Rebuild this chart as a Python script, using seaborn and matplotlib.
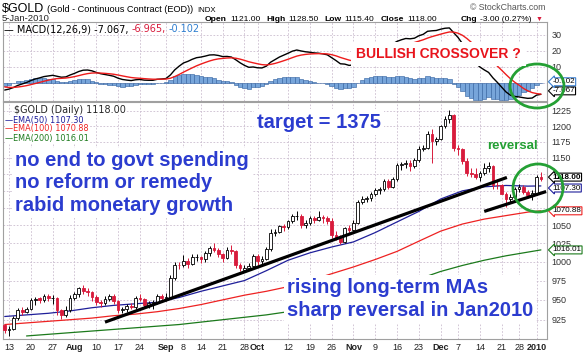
import numpy as np
import pandas as pd
import matplotlib
matplotlib.use("Agg")
import matplotlib.pyplot as plt
from matplotlib.patches import Ellipse
from matplotlib.ticker import FixedLocator, FixedFormatter, NullLocator
import seaborn as sns

# daily gold bars, 10 Jul 2009 .. 5 Jan 2010 (exchange holidays dropped)
HOLIDAYS = ["2009-09-07", "2009-11-26", "2009-12-25", "2010-01-01"]

OPEN = [918, 912, 914, 927, 937, 934, 938, 950, 952, 950,
        955, 952, 953, 937, 931, 937, 953, 958, 965, 961,
        960, 954, 947, 946, 951, 955, 949, 937, 938, 942,
        941, 953, 951, 943, 946, 947, 955, 952, 954, 979,
        996, 995, 1001, 997, 1006, 1007, 1003, 1012, 1019, 1016,
        1010, 1005, 1016, 1014, 995, 989, 991, 994, 1008, 1001,
        1004, 1017, 1040, 1041, 1049, 1048, 1056, 1063, 1064, 1051,
        1053, 1061, 1058, 1062, 1060, 1056, 1037, 1033, 1027, 1046,
        1044, 1054, 1084, 1088, 1090, 1096, 1101, 1103, 1115, 1106,
        1117, 1139, 1140, 1142, 1137, 1146, 1164, 1166, 1188, 1177,
        1180, 1200, 1212, 1218, 1166, 1163, 1145, 1127, 1125, 1120,
        1126, 1134, 1137, 1109, 1108, 1096, 1088, 1091, 1103, 1105,
        1098, 1094, 1097, 1121]
HIGH = [920, 917, 929, 940, 941, 941, 953, 954, 954, 958,
        957, 956, 954, 939, 942, 956, 960, 967, 969, 965,
        962, 956, 950, 955, 958, 957, 950, 941, 945, 946,
        955, 957, 953, 948, 950, 958, 957, 959, 982, 999,
        1000, 1009, 1005, 1010, 1011, 1008, 1015, 1022, 1025, 1018,
        1012, 1020, 1023, 1016, 998, 996, 998, 1010, 1010, 1008,
        1020, 1045, 1045, 1051, 1052, 1058, 1066, 1070, 1066, 1058,
        1063, 1064, 1070, 1065, 1063, 1060, 1042, 1036, 1048, 1051,
        1058, 1087, 1093, 1093, 1099, 1104, 1106, 1118, 1117, 1120,
        1142, 1143, 1147, 1146, 1150, 1168, 1170, 1192, 1195, 1183,
        1202, 1216, 1227, 1220, 1170, 1166, 1149, 1135, 1135, 1130,
        1142, 1143, 1139, 1117, 1110, 1098, 1096, 1105, 1110, 1108,
        1101, 1101, 1124, 1128.5]
LOW = [908, 905, 912, 925, 931, 933, 937, 944, 946, 947,
       948, 945, 931, 926, 928, 934, 950, 954, 958, 955,
       948, 943, 941, 943, 949, 945, 933, 933, 935, 938,
       939, 948, 940, 940, 939, 945, 948, 948, 952, 976,
       990, 993, 992, 995, 1001, 998, 1000, 1008, 1013, 1006,
       1000, 1003, 1010, 992, 988, 986, 989, 991, 996, 997,
       1002, 1015, 1035, 1039, 1042, 1045, 1054, 1058, 1047, 1046,
       1051, 1053, 1056, 1053, 1052, 1033, 1030, 1024, 1025, 1040,
       1042, 1052, 1081, 1083, 1085, 1092, 1095, 1100, 1103, 1104,
       1115, 1132, 1135, 1130, 1135, 1144, 1160, 1164, 1142, 1170,
       1178, 1197, 1205, 1160, 1155, 1140, 1122, 1120, 1117, 1115,
       1123, 1128, 1103, 1102, 1095, 1076, 1083, 1089, 1099, 1095,
       1089, 1086, 1094, 1115.4]
CLOSE = [912, 914, 927, 937, 935, 938, 950, 951, 950, 955,
         952, 953, 937, 931, 937, 953, 958, 965, 961, 960,
         954, 947, 946, 951, 955, 949, 937, 938, 942, 941,
         953, 951, 943, 946, 947, 955, 952, 954, 979, 996,
         995, 1001, 997, 1006, 1007, 1003, 1012, 1019, 1016, 1010,
         1005, 1016, 1014, 995, 991, 991, 994, 1008, 1001, 1004,
         1017, 1040, 1041, 1049, 1048, 1056, 1063, 1064, 1051, 1053,
         1061, 1058, 1062, 1060, 1056, 1037, 1033, 1027, 1046, 1044,
         1054, 1084, 1088, 1090, 1096, 1101, 1103, 1115, 1106, 1117,
         1139, 1140, 1142, 1137, 1146, 1164, 1166, 1188, 1177, 1180,
         1200, 1212, 1218, 1166, 1163, 1145, 1127, 1125, 1120, 1126,
         1134, 1137, 1109, 1108, 1096, 1088, 1091, 1103, 1105, 1098,
         1094, 1097, 1121, 1118]

# moving averages every 5th bar
EMA_DAYS = [0, 5, 10, 15, 20, 25, 30, 35, 40, 45, 50, 55, 60,
            65, 70, 75, 80, 85, 90, 95, 100, 105, 110, 115, 120, 123]
EMA50 = [929, 931, 933, 936, 940, 943, 945, 947, 953, 961, 968, 975, 988,
         1002, 1012, 1020, 1027, 1040, 1055, 1070, 1088, 1100, 1106, 1108, 1107, 1107.3]
EMA100 = [919, 921, 923, 925, 927, 930, 932, 935, 939, 944, 950, 956, 961,
          967, 975, 984, 993, 1003, 1014, 1028, 1042, 1052, 1059, 1064, 1069, 1070.88]
EMA200_DAYS = EMA_DAYS[1:]
EMA200 = [905, 907, 909, 911, 913, 915, 917, 919, 922, 925, 928, 931,
          935, 940, 946, 952, 959, 966, 977, 987, 995, 1002, 1008, 1013, 1016.01]

MACD = [-4.4, -3.8, -2.8, -1.5, -0.6, 0.3, 1.5, 2.5, 3.2, 4.0,
        4.4, 4.8, 4.2, 3.6, 3.8, 5.0, 6.0, 7.2, 8.0, 8.1,
        7.6, 6.6, 5.8, 5.3, 4.8, 4.2, 3.0, 2.2, 1.8, 1.5,
        2.0, 2.2, 1.8, 1.7, 1.7, 2.3, 2.5, 2.8, 5.0, 8.2,
        10.5, 12.5, 13.5, 14.8, 15.8, 16.2, 16.8, 17.5, 17.6, 17.2,
        16.5, 16.6, 16.2, 14.5, 12.6, 11.0, 9.8, 10.0, 9.5, 9.4,
        10.5, 13.0, 14.6, 16.2, 17.4, 18.6, 19.9, 20.6, 20.0, 19.5,
        19.2, 18.8, 18.6, 18.2, 17.6, 15.8, 14.0, 12.0, 11.8, 11.0,
        11.3, 13.8, 16.2, 18.0, 19.6, 21.0, 22.0, 23.4, 23.6, 24.4,
        26.0, 27.0, 27.8, 27.6, 28.0, 29.5, 30.4, 32.3, 32.6, 32.8,
        33.6, 34.2, 34.4, 31.4, 28.4, 24.6, 20.0, 16.2, 12.6, 10.0,
        8.2, 6.6, 3.2, 0.4, -2.6, -5.6, -7.6, -8.4, -8.7, -9.2,
        -9.6, -9.4, -7.6, -7.067]
SIGNAL = [-2.5, -2.76, -2.77, -2.52, -2.14, -1.65, -1.02, -0.32, 0.38, 1.10,
          1.76, 2.37, 2.74, 2.91, 3.09, 3.47, 3.98, 4.62, 5.30, 5.86,
          6.21, 6.29, 6.19, 6.01, 5.77, 5.46, 4.97, 4.42, 3.90, 3.42,
          3.14, 2.95, 2.72, 2.52, 2.36, 2.35, 2.38, 2.46, 2.97, 4.02,
          5.32, 6.76, 8.11, 9.45, 10.72, 11.82, 12.82, 13.76, 14.53, 15.06,
          15.35, 15.60, 15.72, 15.48, 14.90, 14.12, 13.26, 12.61, 11.99, 11.47,
          11.28, 11.62, 12.22, 13.02, 13.90, 14.84, 15.85, 16.80, 17.44, 17.85,
          18.12, 18.26, 18.33, 18.30, 18.16, 17.69, 16.95, 15.96, 15.13, 14.30,
          13.70, 13.72, 14.22, 14.98, 15.90, 16.92, 17.94, 19.03, 19.94, 20.83,
          21.86, 22.89, 23.87, 24.62, 25.30, 26.14, 26.99, 28.05, 28.96, 29.73,
          30.50, 31.24, 31.87, 31.78, 31.10, 29.80, 27.84, 25.51, 22.93, 20.34,
          17.91, 15.65, 13.16, 10.61, 7.97, 5.26, 2.69, 0.47, -1.36, -3.4,
          -4.9, -6.0, -6.6, -6.965]

TICK_DATES = ["2009-07-13", "2009-07-20", "2009-07-27", "2009-08-03", "2009-08-10",
              "2009-08-17", "2009-08-24", "2009-09-01", "2009-09-08", "2009-09-14",
              "2009-09-21", "2009-09-28", "2009-10-01", "2009-10-12", "2009-10-19",
              "2009-10-26", "2009-11-02", "2009-11-09", "2009-11-16", "2009-11-23",
              "2009-12-01", "2009-12-07", "2009-12-14", "2009-12-21", "2009-12-28",
              "2010-01-04"]
TICK_LABELS = ["13", "20", "27", "Aug", "10", "17", "24", "Sep", "8", "14", "21", "28", "Oct",
               "12", "19", "26", "Nov", "9", "16", "23", "Dec", "7", "14", "21", "28", "2010"]
PRICE_TICKS = [925, 950, 975, 1000, 1025, 1050, 1075, 1100, 1125, 1150, 1175, 1200, 1225]
PRICE_HIDDEN = [1075, 1100, 1125]   # covered by the value tags on the original
MACD_TICKS = [0, 10, 20, 30]

# hand-drawn support lines (bar number, price)
TREND1_DAY, TREND1_PRICE = [23, 115.2], [922, 1120]
TREND2_DAY, TREND2_PRICE = [110, 124.2], [1070, 1099]

RED = "#d81b3c"
NOTE_BLUE = "#2b3ccf"
GREEN = "#24a034"
GRID = "#cbbdcf"
W, H = 585, 354


def fx(x):
    return x / W


def fy(y):
    return 1 - y / H


days = pd.bdate_range("2009-07-10", "2010-01-05")
days = days[~days.isin(pd.to_datetime(HOLIDAYS))]
assert len(days) == len(CLOSE)
tick_pos = [days.get_loc(pd.Timestamp(d)) for d in TICK_DATES]

sns.set_theme(style="white")
plt.rcParams["font.family"] = ["Liberation Sans", "DejaVu Sans"]

fig = plt.figure(figsize=(5.85, 3.54), dpi=100)
renderer = fig.canvas.get_renderer()
ax_m = fig.add_axes([fx(3), fy(101), 544 / W, 79 / H])
ax_p = fig.add_axes([fx(3), fy(339), 544 / W, 237 / H])

for ax in (ax_m, ax_p):
    ax.set_facecolor("white")
    ax.set_xlim(-0.4, 124.4)
    ax.set_xticks(tick_pos)
    ax.set_axisbelow(True)
    ax.grid(True, color=GRID, lw=0.6, ls=(0, (2, 2)))
    for s in ax.spines.values():
        s.set_color("#a0a0a0")
        s.set_linewidth(0.8)
    ax.yaxis.tick_right()
    ax.tick_params(axis="y", length=0, labelsize=6.5, pad=3, colors="#333333")
    ax.tick_params(axis="x", length=0, labelsize=6.5, pad=3, colors="#222222")

# ---- MACD panel
x = np.arange(len(CLOSE))
hist = np.array(MACD) - np.array(SIGNAL)
ax_m.bar(x, hist, width=1.0, color="#77a5da", edgecolor="#2f5e9e", lw=0.4, zorder=2)
sns.lineplot(x=x, y=MACD, ax=ax_m, color="black", lw=1.0, zorder=3)
sns.lineplot(x=x, y=SIGNAL, ax=ax_m, color="#ee1c1c", lw=1.0, zorder=3)
ax_m.set_ylim(-11.25, 38.1)
ax_m.yaxis.set_major_locator(FixedLocator(MACD_TICKS))
ax_m.yaxis.set_major_formatter(FixedFormatter(["" if t == 0 else str(t) for t in MACD_TICKS]))
ax_m.set_xticklabels([])
ax_m.set_xlabel("")
ax_m.set_ylabel("")

# ---- price panel
o, h, l, c = (np.array(v, dtype=float) for v in (OPEN, HIGH, LOW, CLOSE))
prev = np.r_[o[0], c[:-1]]
col = np.where(c < prev, RED, "black")
face = np.where(c < o, col, "white")
ax_p.vlines(x, l, h, colors=col, lw=0.7, zorder=4)
ax_p.bar(x, np.maximum(np.abs(c - o), 0.7), bottom=np.minimum(o, c), width=0.62,
         color=face, edgecolor=col, lw=0.6, zorder=5)

sns.lineplot(x=EMA_DAYS, y=EMA50, ax=ax_p, color="#1f1f9a", lw=0.9, zorder=3)
sns.lineplot(x=EMA_DAYS, y=EMA100, ax=ax_p, color="#ee2222", lw=0.9, zorder=3)
sns.lineplot(x=EMA200_DAYS, y=EMA200, ax=ax_p, color="#1c7a1c", lw=0.9, zorder=3)
ax_p.plot(TREND1_DAY, TREND1_PRICE, color="black", lw=2.3, solid_capstyle="butt", zorder=6)
ax_p.plot(TREND2_DAY, TREND2_PRICE, color="black", lw=2.3, solid_capstyle="butt", zorder=6)

ax_p.set_yscale("log")
ax_p.set_ylim(901.3, 1239.6)
ax_p.yaxis.set_major_locator(FixedLocator(PRICE_TICKS))
ax_p.yaxis.set_major_formatter(FixedFormatter(["" if t in PRICE_HIDDEN else str(t) for t in PRICE_TICKS]))
ax_p.yaxis.set_minor_locator(NullLocator())
ax_p.set_xticklabels(TICK_LABELS)
for lbl in ax_p.get_xticklabels():
    if not lbl.get_text().isdigit() or lbl.get_text() == "2010":
        lbl.set_fontweight("bold")
ax_p.set_xlabel("")
ax_p.set_ylabel("")


def tag(ax, val, txt, ec, dy=0.0, bold=False):
    ax.annotate(txt, xy=(1, val), xycoords=ax.get_yaxis_transform(),
                xytext=(4, dy), textcoords="offset points", va="center", ha="left",
                fontsize=5.8, fontweight="bold" if bold else "normal", color="black",
                bbox=dict(boxstyle="larrow,pad=0.06", fc="white", ec=ec, lw=0.8), zorder=8)


tag(ax_p, EMA50[-1], "1107.30", "#1f1f9a", dy=-1.5)
tag(ax_p, CLOSE[-1], "1118.00", "black", dy=1.2, bold=True)
tag(ax_p, EMA100[-1], "1070.88", "#ee2222")
tag(ax_p, EMA200[-1], "1016.01", "#1c7a1c")
tag(ax_m, MACD[-1], "-7.067", "black", dy=2.5)
tag(ax_m, MACD[-1] - SIGNAL[-1], "-0.102", "#3a7fd0", dy=1.0)


def run_text(x0, y, pieces, **kw):
    # lays coloured / bold / sized pieces one after another on a single line
    for s, color, weight, size, gap in pieces:
        t = fig.text(fx(x0), fy(y), s, color=color, fontweight=weight, fontsize=size,
                     va="baseline", **kw)
        x0 = t.get_window_extent(renderer=renderer).x1 + gap


# ---- header
run_text(2, 12, [("$GOLD", "black", "normal", 9, 3),
                 ("(Gold - Continuous Contract (EOD))", "black", "normal", 6.6, 4),
                 ("INDX", "black", "normal", 5.6, 0)])
fig.text(fx(2), fy(21), "5-Jan-2010", fontsize=6.8, va="baseline")
fig.text(fx(545), fy(7), "\u00a9 StockCharts.com", fontsize=6.3, color="#555555", ha="right", va="center")
run_text(205, 21, [("Open", "black", "bold", 6.1, 3), ("1121.00", "black", "normal", 6.1, 6),
                   ("High", "black", "bold", 6.1, 3), ("1128.50", "black", "normal", 6.1, 6),
                   ("Low", "black", "bold", 6.1, 3), ("1115.40", "black", "normal", 6.1, 6),
                   ("Close", "black", "bold", 6.1, 3), ("1118.00", "black", "normal", 6.1, 24),
                   ("Chg", "black", "bold", 6.1, 3), ("-3.00 (0.27%)", "black", "normal", 6.1, 4),
                   ("\u25bc", RED, "normal", 5, 0)])

# legends inside panels
run_text(4, 32, [("\u2014 MACD(12,26,9) -7.067,", "black", "normal", 7, 3),
                 ("-6.965,", RED, "normal", 7, 3), ("-0.102", "#2f7fd0", "normal", 7, 0)],
         family="DejaVu Sans")
fig.text(fx(14), fy(110), "$GOLD (Daily) 1118.00", fontsize=6.9, va="center", family="DejaVu Sans",
         bbox=dict(boxstyle="square,pad=0.05", fc="white", ec="none"))
for py, s, cl in [(120, "\u2014EMA(50) 1107.30", "#1f1f9a"),
                  (129, "\u2014EMA(100) 1070.88", "#ee2222"),
                  (138, "\u2014EMA(200) 1016.01", "#1c7a1c")]:
    fig.text(fx(5), fy(py), s, fontsize=5.9, color=cl, va="center", family="DejaVu Sans",
             bbox=dict(boxstyle="square,pad=0.05", fc="white", ec="none"))

# ---- annotations
note = dict(fontsize=14.5, fontweight="bold", color=NOTE_BLUE, va="center",
            bbox=dict(boxstyle="square,pad=0.15", fc="white", ec="none"))
fig.text(fx(15), fy(183), "no end to govt spending\nno reform or remedy\nrabid monetary growth",
         linespacing=1.25, **note)
fig.text(fx(257), fy(122), "target = 1375", **note)
fig.text(fx(287), fy(299), "rising long-term MAs\nsharp reversal in Jan2010", linespacing=1.25, **note)
fig.text(fx(356), fy(54), "BULLISH CROSSOVER ?", fontsize=10, fontweight="bold", color="#e8141c",
         va="center", bbox=dict(boxstyle="square,pad=0.35", fc="white", ec="none"))
fig.text(fx(487), fy(146), "reversal", fontsize=9.5, fontweight="bold", color=GREEN, va="center")

fig.add_artist(Ellipse((537 / 100, (H - 86) / 100), 0.54, 0.44, transform=fig.dpi_scale_trans,
                       fill=False, ec=GREEN, lw=2.0))
fig.add_artist(Ellipse((538 / 100, (H - 188) / 100), 0.50, 0.48, transform=fig.dpi_scale_trans,
                       fill=False, ec=GREEN, lw=2.0))

fig.savefig("out.png", dpi=100, facecolor="white")
